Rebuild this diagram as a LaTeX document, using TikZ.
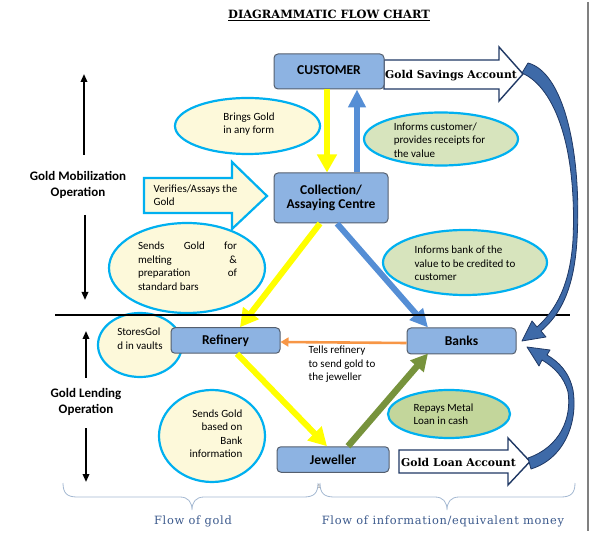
\documentclass[tikz,border=0pt]{standalone}
\usepackage{fontspec}
\setmainfont{Carlito}
\newfontfamily\serifx{DejaVu Serif}
\usetikzlibrary{arrows.meta,shapes.geometric}
\definecolor{boxfill}{RGB}{141,179,226}
\definecolor{boxdraw}{RGB}{85,95,110}
\definecolor{cream}{RGB}{253,249,218}
\definecolor{cyanb}{RGB}{0,176,240}
\definecolor{lgreen}{RGB}{215,228,189}
\definecolor{mgreen}{RGB}{195,214,155}
\definecolor{ayellow}{RGB}{255,255,0}
\definecolor{ablue}{RGB}{85,142,213}
\definecolor{aorange}{RGB}{247,150,70}
\definecolor{agreen}{RGB}{119,147,60}
\definecolor{navy}{RGB}{31,56,100}
\definecolor{cblue}{RGB}{62,106,168}
\definecolor{brcol}{RGB}{165,185,210}
\definecolor{labcol}{RGB}{59,89,140}
\begin{document}
\begin{tikzpicture}[x=1pt,y=-1pt,
  box/.style={draw=boxdraw, line width=1pt, fill=boxfill, rounded corners=4pt, inner sep=0pt,
    font=\fontsize{13.5}{16.3}\selectfont\bfseries, align=center},
  bubble/.style={ellipse, draw=cyanb, line width=2.2pt, fill=cream, inner sep=0pt},
  txt/.style={font=\fontsize{11}{13.5}\selectfont, align=left, inner sep=0pt},
  side/.style={font=\fontsize{13}{16.5}\selectfont\bfseries, align=center, inner sep=0pt},
  acct/.style={font=\serifx\bfseries\fontsize{10.8}{13}\selectfont, inner sep=0pt},
  blockarrow/.style={draw=navy, line width=1.4pt, fill=white, line join=miter},
  yarrow/.style={draw=ayellow, line width=6pt, -{Triangle[width=19pt,length=18pt]}},
  barrow/.style={draw=ablue, line width=6pt, -{Triangle[width=17pt,length=18pt]}},
  garrow/.style={draw=agreen, line width=6.5pt, -{Triangle[width=17pt,length=17pt]}},
  oarrow/.style={draw=aorange, line width=2.6pt, -{Triangle[width=9pt,length=8pt]}},
  varrow/.style={draw=black, line width=1.8pt, -{Triangle[width=6.5pt,length=8pt]}},
  curved/.style={fill=cblue, draw=navy, line width=0.8pt, line join=round},
  bracel/.style={draw=brcol, line width=0.8pt},
  flowlab/.style={font=\serifx\fontsize{11.4}{13}\selectfont\addfontfeatures{LetterSpace=6}, text=labcol, inner sep=0pt}
]
\useasboundingbox (0,0) rectangle (592,537);

% right page border
\draw[gray, line width=1.2pt] (588,2) -- (588,531);

% title
\node[font=\serifx\bfseries\fontsize{11.4}{13}\selectfont, inner sep=0pt] (title) at (329,15) {\underline{DIAGRAMMATIC FLOW CHART}};

% ellipses
\node[bubble, minimum width=145pt, minimum height=56pt] (e1) at (247.5,126) {};
\node[txt] (t1) at (249,124) {Brings Gold\\in any form};
\node[bubble, fill=lgreen, minimum width=154pt, minimum height=53pt] (e2) at (441,139) {};
\node[txt] (t2) at (439.5,140) {Informs customer/\\provides receipts for\\the value};
\node[bubble, minimum width=156pt, minimum height=90pt] (e3) at (187,268) {};
\node[txt] (t3) at (187.5,266) {\makebox[99pt][s]{Sends Gold for}\\\makebox[99pt][s]{melting \&}\\\makebox[99pt][s]{preparation of}\\standard bars};
\node[bubble, fill=lgreen, minimum width=164pt, minimum height=65pt] (e4) at (465,262.5) {};
\node[txt] (t4) at (465,263.5) {Informs bank of the\\value to be credited to\\customer};
\node[bubble, minimum width=84pt, minimum height=64pt] (e5) at (140,345) {};
\node[txt] (t5) at (140,338.5) {StoresGol\\d in vaults};
\node[bubble, minimum width=106pt, minimum height=92pt] (e6) at (212,436) {};
\node[txt, align=right] (t6) at (216,433.5) {Sends Gold\\based on\\Bank\\information};
\node[bubble, fill=mgreen, minimum width=122pt, minimum height=48pt] (e7) at (449,414) {};
\node[txt] (t7) at (443.5,414) {Repays Metal\\Loan in cash};

% verifies block arrow
\draw[draw=cyanb, fill=cream, line width=2.2pt, line join=miter] (144,178) -- (232,178) -- (232,162) -- (267,196) -- (232,229) -- (232,213) -- (144,213) -- cycle;
\node[txt] (t8) at (195.5,195) {Verifies/Assays the\\Gold};

% account block arrows
\draw[blockarrow] (384,60) -- (499,60) -- (499,47) -- (523,74) -- (499,101) -- (499,89) -- (384,89) -- cycle;
\node[acct] (gsa) at (451,76) {Gold Savings Account};
\draw[blockarrow] (399,450) -- (508,450) -- (508,438) -- (530,461.5) -- (508,485) -- (508,473) -- (399,473) -- cycle;
\node[acct] (gla) at (458.5,462) {Gold Loan Account};

% boxes
\node[box, minimum width=110pt, minimum height=35pt] (cust) at (329,71.5) {\raisebox{3pt}{CUSTOMER}};
\node[box, minimum width=114pt, minimum height=50pt] (coll) at (331,198) {\raisebox{2pt}{\shortstack{Collection/\\[1pt]Assaying Centre}}};
\node[box, minimum width=109pt, minimum height=25.5pt] (ref) at (225.5,340.5) {Refinery};
\node[box, minimum width=109pt, minimum height=26pt] (bank) at (461.5,341) {Banks};
\node[box, minimum width=112pt, minimum height=25.5pt] (jew) at (333,459.5) {\raisebox{-1.5pt}{Jeweller}};

% arrows
\draw[yarrow] ([xshift=-2pt]cust.south) -- ([xshift=-4pt]coll.north);
\draw[barrow] ([xshift=26pt]coll.north) -- ([xshift=28pt]cust.south);
\draw[yarrow] ([xshift=-11pt]coll.south) -- ([xshift=14.5pt]ref.north);
\draw[barrow] ([xshift=6pt]coll.south) -- ([xshift=-33.5pt]bank.north);
\draw[yarrow] ([xshift=11.5pt]ref.south) -- ([xshift=-6pt]jew.north);
\draw[garrow] ([xshift=15pt]jew.north) -- ([xshift=-33.5pt,yshift=1pt]bank.south);
\draw[oarrow] ([yshift=-2pt]bank.west) -- ([yshift=-1.5pt]ref.east);
\node[txt] (t9) at (342,364.5) {Tells refinery\\to send gold to\\the jeweller};

% divider
\coordinate (dl) at (55,315);
\coordinate (dr) at (570,315);
\draw[black, line width=2.4pt] (dl) -- (dr);

% side labels and arrows
\node[side] (gmo) at (78,185) {Gold Mobilization\\Operation};
\coordinate (a1s) at (84,155); \coordinate (a1e) at (84,74);
\coordinate (a2s) at (85,215); \coordinate (a2e) at (85,300);
\draw[varrow] (a1s) -- (a1e);
\draw[varrow] (a2s) -- (a2e);
\node[side] (glo) at (86,402) {Gold Lending\\Operation};
\coordinate (a3s) at (86,378); \coordinate (a3e) at (86,331);
\coordinate (a4s) at (86,428); \coordinate (a4e) at (86,482);
\draw[varrow] (a3s) -- (a3e);
\draw[varrow] (a4s) -- (a4e);

% curved arrows
\draw[curved] (522,73) -- (528,63) .. controls (563,72) and (582,150) .. (577,240)
  .. controls (574,290) and (560,315) .. (541,331) -- (546,337) -- (522,341) -- (532,321) -- (537,327)
  .. controls (556,310) and (570,285) .. (573,240) .. controls (577,150) and (556,88) .. (522,73) -- cycle;
\draw[curved] (528,458) -- (531,469) .. controls (566,458) and (578,420) .. (573,390)
  .. controls (569,372) and (559,362) .. (547,355) -- (550,350) -- (527,347) -- (539,366) -- (542,360)
  .. controls (554,367) and (564,377) .. (568,392) .. controls (572,418) and (560,447) .. (528,458) -- cycle;

% braces
\draw[bracel] (63,483) .. controls (63,493) and (67,497) .. (77,497) -- (180,497)
  .. controls (188,497) and (192,502) .. (192,510) .. controls (192,502) and (196,497) .. (204,497)
  -- (304,497) .. controls (314,497) and (318,493) .. (318,483);
\draw[bracel] (320,483) .. controls (320,493) and (324,497) .. (334,497) -- (435,497)
  .. controls (443,497) and (447,502) .. (447,510) .. controls (447,502) and (451,497) .. (459,497)
  -- (561,497) .. controls (571,497) and (575,493) .. (575,483);
\node[flowlab] (fg) at (193,521) {Flow of gold};
\node[flowlab] (fi) at (443,521) {Flow of information/equivalent money};
\node[font=\fontsize{6}{7}\selectfont, text=gray, inner sep=0pt] (pg) at (319,487) {1};
\end{tikzpicture}
\end{document}
